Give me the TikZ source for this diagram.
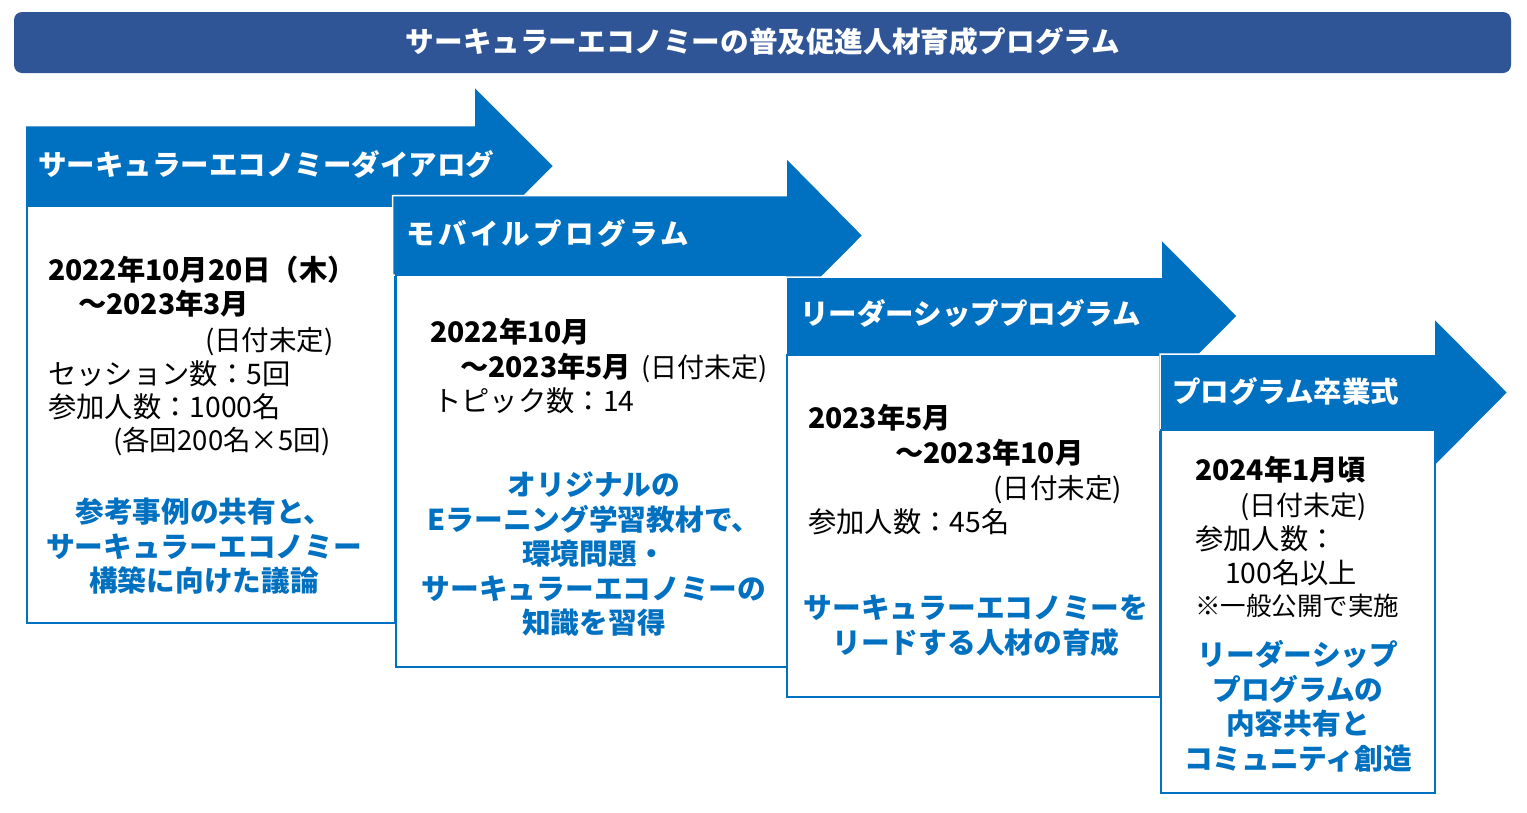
\documentclass[tikz,border=0pt]{standalone}
\usepackage{fontspec}
\setmainfont{Noto Sans CJK JP}
\newfontfamily\jpwide{Noto Sans CJK JP}[LetterSpace=12]
\definecolor{navy}{HTML}{2F5597}
\definecolor{mblue}{HTML}{0070C0}
\begin{document}
\begin{tikzpicture}[x=1pt,y=-1pt,
  arrowshape/.style={fill=mblue,draw=white,line width=1.5pt,line join=miter},
  boxshape/.style={fill=white,draw=mblue,line width=2pt},
  bl/.style={anchor=base west,inner sep=0pt,font=\fontsize{28.3}{32}\selectfont\bfseries},
  rl/.style={anchor=base west,inner sep=0pt,font=\fontsize{28.3}{32}\selectfont},
  bluetxt/.style={anchor=base,inner sep=0pt,text=mblue,font=\fontsize{28.7}{32}\selectfont\bfseries},
  lab/.style={anchor=base west,inner sep=0pt,text=white,font=\fontsize{28.5}{32}\selectfont\bfseries}]
\useasboundingbox (0,0) rectangle (1527,812);
% title
\fill[navy,rounded corners=8pt] (14,12) rectangle (1511,73);
\node[inner sep=0pt,text=white,font=\fontsize{28.6}{32}\selectfont\bfseries,anchor=base] (title) at (763,52.5) {サーキュラーエコノミーの普及促進人材育成プログラム};
% stage 1
\path[arrowshape] (25,125.5) -- (474,125.5) -- (474,86) -- (554,166) -- (474,246) -- (474,206) -- (25,206) -- cycle;
\path[boxshape] (26.5,206) rectangle (395,622.5);
\node[lab] (l1) at (38,175.5) {サーキュラーエコノミーダイアログ};
\node[bl] (a1) at (48,280.5) {2022年10月20日（木）};
\node[bl] (a2) at (78,314.5) {～2023年3月};
\node[rl,font=\fontsize{27.5}{32}\selectfont] (a3) at (205,350.5) {(日付未定)};
\node[rl] (a4) at (48,384.5) {セッション数：5回};
\node[rl] (a5) at (48,417.5) {参加人数：1000名};
\node[rl,font=\fontsize{27.5}{32}\selectfont] (a6) at (113,450.5) {(各回200名×5回)};
\node[bluetxt] (b1) at (204,522.5) {参考事例の共有と、};
\node[bluetxt] (b2) at (204,557.5) {サーキュラーエコノミー};
\node[bluetxt] (b3) at (204,591.5) {構築に向けた議論};
% stage 2
\path[arrowshape] (392.5,195.5) -- (786,195.5) -- (786,157.5) -- (863,235.5) -- (786,313) -- (786,275) -- (392.5,275) -- cycle;
\path[boxshape] (396,275) rectangle (787,667);
\node[lab,font=\jpwide\fontsize{28.5}{32}\selectfont\bfseries] (l2) at (406,244.5) {モバイルプログラム};
\node[bl] (c1) at (430,342.5) {2022年10月};
\node[bl] (c2) at (460,377.5) {～2023年5月{\mdseries\fontsize{27}{32}\selectfont\hspace{10pt}(日付未定)}};
\node[rl] (c3) at (433,411.5) {トピック数：14};
\node[bluetxt] (d1) at (594,495.5) {オリジナルの};
\node[bluetxt] (d2) at (594,530.5) {Eラーニング学習教材で、};
\node[bluetxt] (d3) at (594,564.5) {環境問題・};
\node[bluetxt] (d4) at (594,599.5) {サーキュラーエコノミーの};
\node[bluetxt] (d5) at (594,633.5) {知識を習得};
% stage 3
\path[arrowshape] (786,277) -- (1161,277) -- (1161,239) -- (1237.5,316) -- (1161,393) -- (1161,355) -- (786,355) -- cycle;
\path[boxshape] (787,355) rectangle (1160,696.5);
\node[lab] (l3) at (800,324.5) {リーダーシッププログラム};
\node[bl] (e1) at (808,428.5) {2023年5月};
\node[bl] (e2) at (895,463.5) {～2023年10月};
\node[rl,font=\fontsize{27.5}{32}\selectfont] (e3) at (993,498.5) {(日付未定)};
\node[rl] (e4) at (808,532.5) {参加人数：45名};
\node[bluetxt] (f1) at (976,618.5) {サーキュラーエコノミーを};
\node[bluetxt] (f2) at (976,653.5) {リードする人材の育成};
% stage 4
\path[arrowshape] (1160,354) -- (1434,354) -- (1434,318) -- (1508,392.5) -- (1434,467) -- (1434,430) -- (1160,430) -- cycle;
\path[boxshape] (1161,430) rectangle (1435,793);
\node[lab] (l4) at (1172,402.5) {プログラム卒業式};
\node[bl] (g1) at (1195,480.5) {2024年1月頃};
\node[rl,font=\fontsize{27}{32}\selectfont] (g2) at (1240,515.5) {(日付未定)};
\node[rl] (g3) at (1195,549.5) {参加人数：};
\node[rl] (g4) at (1225,583.5) {100名以上};
\node[rl,font=\fontsize{25.5}{30}\selectfont] (g5) at (1195,615.5) {※一般公開で実施};
\node[bluetxt] (h1) at (1298,665.5) {リーダーシップ};
\node[bluetxt] (h2) at (1298,700.5) {プログラムの};
\node[bluetxt] (h3) at (1298,734.5) {内容共有と};
\node[bluetxt] (h4) at (1298,769.5) {コミュニティ創造};
\end{tikzpicture}
\end{document}
